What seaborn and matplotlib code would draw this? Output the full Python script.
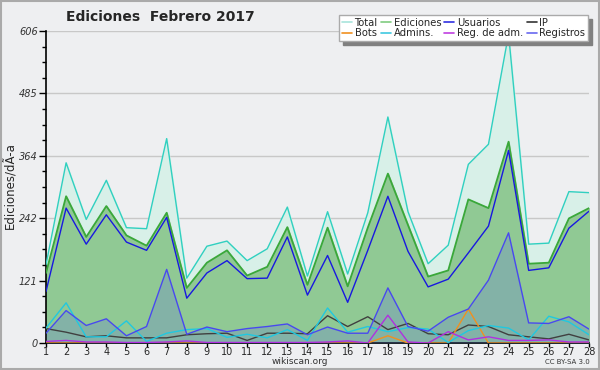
import matplotlib
matplotlib.use("Agg")
import matplotlib.pyplot as plt
import seaborn as sns
import numpy as np
from matplotlib.lines import Line2D
from matplotlib.ticker import FixedLocator

sns.set_theme(style="white")
plt.rcParams['font.family'] = ['DejaVu Sans']

days = list(range(1, 29))
total = [152, 350, 240, 316, 224, 222, 397, 126, 188, 198, 160, 183, 264, 130, 255, 134,
         253, 439, 255, 154, 190, 347, 386, 600, 192, 194, 294, 292]
ediciones = [136, 285, 206, 266, 209, 189, 253, 107, 156, 180, 131, 148, 225, 113, 224, 110,
             224, 329, 229, 129, 141, 279, 262, 391, 154, 156, 242, 262]
usuarios = [100, 262, 192, 249, 196, 180, 244, 87, 136, 160, 125, 126, 206, 93, 170, 79,
            180, 285, 178, 109, 124, 175, 227, 374, 141, 146, 223, 256]
ip = [28, 21, 12, 14, 10, 10, 10, 16, 18, 19, 5, 19, 19, 18, 53, 32,
      51, 26, 38, 18, 16, 35, 32, 16, 12, 8, 17, 6]
bots = [0, 0, 0, 0, 0, 0, 0, 0, 0, 0, 0, 0, 0, 0, 0, 0,
        0, 14, 0, 0, 0, 66, 0, 0, 0, 0, 0, 0]
admins = [29, 78, 12, 12, 43, 3, 19, 26, 28, 11, 17, 10, 26, 5, 68, 21,
          32, 22, 30, 27, 1, 24, 34, 29, 6, 52, 41, 16]
reg_adm = [3, 5, 2, 2, 1, 1, 2, 4, 1, 1, 1, 1, 1, 1, 2, 4,
           0, 54, 2, 0, 22, 6, 12, 5, 5, 6, 2, 2]
registros = [19, 63, 34, 47, 14, 32, 143, 17, 31, 22, 28, 32, 37, 16, 31, 19,
             19, 107, 32, 23, 50, 66, 122, 214, 39, 38, 51, 27]

title = "Ediciones  Febrero 2017"
ylabel = "Ediciones/dÃ-a"
yticks = [0, 121, 242, 364, 485, 606]
legend_labels = ["Total", "Ediciones", "Usuarios", "IP", "Bots", "Admins.", "Reg. de adm.", "Registros"]

bg = "#eeeff1"
fig = plt.figure(figsize=(6.0, 3.7), dpi=100, facecolor=bg)
ax = fig.add_axes([46/600, 27/370, (589-46)/600, (343-31)/370])
ax.set_facecolor(bg)

x = np.array(days)
ax.fill_between(x, total, color="#d8f0e8", zorder=1)
ax.fill_between(x, ediciones, color="#90c994", zorder=2)
ax.fill_between(x, registros, color="#6070e0", alpha=0.25, zorder=3, linewidth=0)

series = [
    (total, "#30d0c0", 1.0),
    (ediciones, "#3aa83a", 1.3),
    (usuarios, "#1818e0", 1.0),
    (ip, "#404040", 1.0),
    (bots, "#f09020", 1.0),
    (admins, "#20c8e0", 1.0),
    (reg_adm, "#b030e0", 1.0),
    (registros, "#4848f0", 1.0),
]
for i, (vals, col, lw) in enumerate(series):
    sns.lineplot(x=days, y=vals, ax=ax, color=col, linewidth=lw, legend=False, zorder=5 + i)

ax.set_xlim(1, 28)
ax.set_ylim(0, 606)
ax.xaxis.set_major_locator(FixedLocator(days))
ax.set_xticklabels([str(d) for d in days], fontsize=7)
ax.yaxis.set_major_locator(FixedLocator(yticks))
ax.yaxis.set_minor_locator(FixedLocator([v for v in np.arange(0, 607, 30.3) if all(abs(v - t) > 1 for t in yticks)]))
ax.set_yticklabels([str(t) for t in yticks], fontsize=7, style="italic", color="#333333")
ax.tick_params(axis="y", which="major", length=5, width=1, color="black", direction="out", left=True, pad=1)
ax.tick_params(axis="y", which="minor", length=3, width=1, color="black", direction="out", left=True)
ax.tick_params(axis="x", which="major", length=3, width=1, color="black", direction="out", bottom=True, pad=0)
ax.grid(axis="y", color="#c8c8c8", linewidth=1, zorder=0)
ax.set_axisbelow(True)
for s in ["top", "right"]:
    ax.spines[s].set_visible(False)
for s in ["left", "bottom"]:
    ax.spines[s].set_color("black")
    ax.spines[s].set_linewidth(1.2)
ax.set_ylabel("")
fig.text(11/600, 1 - 186/370, ylabel, rotation=90, ha="center", va="center", fontsize=8.5)

fig.text(160/600, 1 - 17/370, title, ha="center", va="center", fontsize=10, fontweight="bold")
fig.text(300/600, 1 - 362/370, "wikiscan.org", ha="center", va="center", fontsize=6.5, color="#333333")
fig.text(590/600, 1 - 362/370, "CC BY-SA 3.0", ha="right", va="center", fontsize=5, color="#333333")

colors = ["#a8e4dc", "#80cc80", "#3030e0", "#333333", "#f09020", "#40c8e0", "#c040e0", "#6868f0"]
handles = [Line2D([0], [0], color=c, lw=1.2) for c in colors]
order = [0, 4, 1, 5, 2, 6, 3, 7]
leg = fig.legend([handles[i] for i in order], [legend_labels[i] for i in order],
                 ncol=4, loc="upper right", bbox_to_anchor=(593/600, 1 - 10/370),
                 fontsize=7.2, handlelength=1.0, handletextpad=0.3, columnspacing=0.3,
                 labelspacing=0.1, borderpad=0.25, frameon=True, fancybox=False,
                 shadow={"color": "#808080", "alpha": 1.0, "ox": 3, "oy": -3})
leg.get_frame().set_facecolor("white")
leg.get_frame().set_edgecolor("#aaaaaa")
leg.get_frame().set_alpha(1)

fig.patches.append(plt.Rectangle((0.002, 0.003), 0.996, 0.994, transform=fig.transFigure,
                                 fill=False, edgecolor="#aaaaaa", linewidth=1.5))

fig.savefig("out.png", dpi=100, facecolor=bg)
